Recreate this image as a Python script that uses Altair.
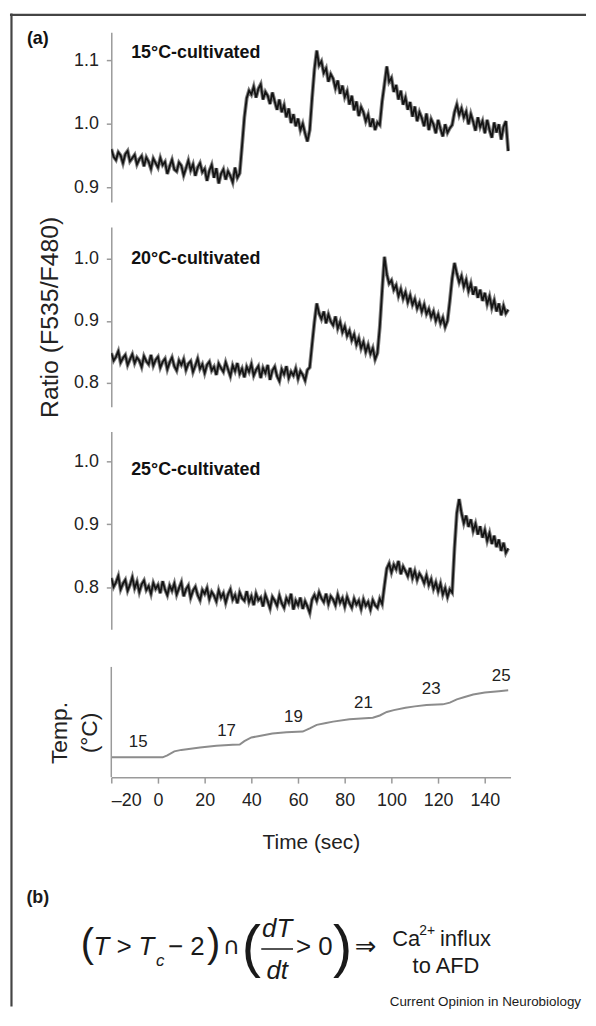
import altair as alt
import pandas as pd

# ---------------- data ----------------
time_s = list(range(-20, 151))

ratio_15 = [
    0.960, 0.948, 0.943, 0.955, 0.950, 0.938, 0.952, 0.957, 0.941, 0.946,
    0.951, 0.936, 0.944, 0.949, 0.933, 0.947, 0.940, 0.929, 0.945, 0.938,
    0.931, 0.946, 0.935, 0.940, 0.921, 0.933, 0.943, 0.928, 0.925, 0.939,
    0.934, 0.919, 0.930, 0.942, 0.927, 0.936, 0.918, 0.931, 0.938, 0.924,
    0.929, 0.910, 0.926, 0.935, 0.915, 0.930, 0.906, 0.921, 0.928, 0.912,
    0.925, 0.918, 0.908, 0.931, 0.915, 0.922, 0.965, 1.010, 1.040, 1.052,
    1.046, 1.058, 1.041, 1.055, 1.062, 1.038, 1.050, 1.044, 1.031, 1.049,
    1.035, 1.022, 1.038, 1.018, 1.029, 1.010, 1.024, 1.001, 1.015, 0.996,
    1.008, 0.990, 1.000, 0.985, 0.972, 0.990, 1.040, 1.085, 1.115, 1.092,
    1.098, 1.080, 1.087, 1.066, 1.078, 1.071, 1.056, 1.068, 1.047, 1.060,
    1.042, 1.051, 1.030, 1.044, 1.021, 1.035, 1.012, 1.026, 1.018, 1.004,
    1.014, 0.995, 1.008, 0.990, 1.002, 0.998, 1.035, 1.062, 1.090, 1.066,
    1.072, 1.050, 1.061, 1.038, 1.052, 1.030, 1.041, 1.022, 1.034, 1.011,
    1.027, 1.004, 1.018, 1.009, 0.996, 1.016, 0.990, 1.007, 0.999, 0.985,
    1.006, 0.992, 0.980, 0.999, 0.986, 0.993, 0.998, 1.018, 1.030, 1.014,
    1.024, 1.010, 1.019, 0.999, 1.015, 1.003, 0.989, 1.010, 0.995, 1.004,
    0.985, 1.006, 0.990, 0.978, 1.002, 0.986, 0.999, 0.975, 0.995, 1.004, 0.957,
]

ratio_20 = [
    0.848, 0.836, 0.842, 0.851, 0.833, 0.840, 0.845, 0.829, 0.838, 0.846,
    0.832, 0.841, 0.836, 0.826, 0.843, 0.835, 0.830, 0.845, 0.828, 0.837,
    0.842, 0.825, 0.834, 0.839, 0.822, 0.833, 0.841, 0.827, 0.820, 0.836,
    0.829, 0.838, 0.821, 0.831, 0.835, 0.818, 0.828, 0.839, 0.823, 0.830,
    0.816, 0.829, 0.834, 0.820, 0.826, 0.813, 0.831, 0.824, 0.818, 0.833,
    0.822, 0.811, 0.828, 0.819, 0.832, 0.815, 0.823, 0.809, 0.826, 0.818,
    0.830, 0.812, 0.821, 0.827, 0.808, 0.824, 0.816, 0.829, 0.805, 0.820,
    0.826, 0.811, 0.803, 0.822, 0.814, 0.827, 0.808, 0.818, 0.812, 0.823,
    0.807, 0.819, 0.813, 0.804, 0.821, 0.825, 0.862, 0.898, 0.928, 0.912,
    0.903, 0.915, 0.896, 0.910, 0.899, 0.893, 0.907, 0.888, 0.898, 0.882,
    0.891, 0.876, 0.884, 0.869, 0.878, 0.862, 0.872, 0.856, 0.866, 0.850,
    0.861, 0.847, 0.856, 0.838, 0.848, 0.890, 0.948, 1.003, 0.975, 0.960,
    0.965, 0.950, 0.957, 0.940, 0.951, 0.936, 0.946, 0.930, 0.941, 0.926,
    0.935, 0.920, 0.929, 0.915, 0.926, 0.911, 0.919, 0.906, 0.915, 0.900,
    0.910, 0.896, 0.905, 0.890, 0.900, 0.932, 0.968, 0.993, 0.976, 0.962,
    0.972, 0.955, 0.966, 0.948, 0.960, 0.942, 0.955, 0.937, 0.950, 0.932,
    0.945, 0.927, 0.939, 0.921, 0.933, 0.915, 0.928, 0.909, 0.924, 0.912, 0.918,
]

ratio_25 = [
    0.815, 0.801, 0.808, 0.818, 0.797, 0.806, 0.812, 0.795, 0.804, 0.816,
    0.799, 0.809, 0.793, 0.805, 0.811, 0.796, 0.802, 0.790, 0.807, 0.798,
    0.804, 0.791, 0.810, 0.797, 0.788, 0.803, 0.795, 0.806, 0.789, 0.799,
    0.808, 0.786, 0.797, 0.803, 0.784, 0.795, 0.801, 0.788, 0.780, 0.796,
    0.790, 0.799, 0.782, 0.793, 0.787, 0.778, 0.795, 0.784, 0.791, 0.776,
    0.789, 0.797, 0.781, 0.788, 0.775, 0.792, 0.783, 0.779, 0.794, 0.777,
    0.786, 0.772, 0.790, 0.780, 0.784, 0.770, 0.788, 0.778, 0.767, 0.785,
    0.779, 0.771, 0.787, 0.775, 0.768, 0.783, 0.776, 0.790, 0.765, 0.779,
    0.772, 0.784, 0.766, 0.778, 0.770, 0.760, 0.781, 0.788, 0.779, 0.792,
    0.783, 0.777, 0.790, 0.774, 0.786, 0.781, 0.772, 0.788, 0.776, 0.783,
    0.770, 0.785, 0.775, 0.768, 0.782, 0.773, 0.779, 0.766, 0.781, 0.771,
    0.777, 0.765, 0.780, 0.772, 0.768, 0.782, 0.774, 0.803, 0.830, 0.838,
    0.824, 0.836, 0.829, 0.842, 0.821, 0.833, 0.826, 0.818, 0.831, 0.815,
    0.826, 0.812, 0.822, 0.816, 0.807, 0.819, 0.804, 0.813, 0.798, 0.808,
    0.794, 0.806, 0.789, 0.799, 0.785, 0.797, 0.792, 0.862, 0.918, 0.940,
    0.918, 0.902, 0.914, 0.896, 0.908, 0.890, 0.901, 0.884, 0.897, 0.879,
    0.891, 0.874, 0.886, 0.869, 0.882, 0.864, 0.876, 0.858, 0.871, 0.855, 0.862,
]

temp_time = [-20, 2, 4, 7, 10, 18, 25, 32, 35, 37, 40, 44, 49, 55, 62, 65, 68,
             72, 75, 82, 92, 95, 98, 101, 106, 110, 115, 122, 125, 128, 131,
             135, 140, 146, 150]
temp_vals = [15.0, 15.0, 15.3, 15.88, 16.1, 16.47, 16.7, 16.87, 16.9, 17.4,
             17.94, 18.2, 18.53, 18.7, 18.82, 19.3, 19.81, 20.1, 20.29, 20.65,
             20.88, 21.2, 21.72, 22.0, 22.35, 22.55, 22.75, 22.85, 23.1, 23.59,
             23.9, 24.32, 24.6, 24.81, 24.95]

temp_label_time = [-8.5, 29.4, 58, 88, 117, 147]
temp_label_pos = [17.2, 18.9, 21.0, 23.05, 25.1, 27.0]
temp_label_text = ["15", "17", "19", "21", "23", "25"]

panel_titles = ["15°C-cultivated", "20°C-cultivated", "25°C-cultivated"]
title_time = -11.5
title_pos = [1.111, 1.0, 0.986]

x_ticks = [-20, 0, 20, 40, 60, 80, 100, 120, 140]

FONT = "Liberation Sans"
AX = "#9a9a9a"
INK = "#1a1a1a"

xscale = alt.Scale(domain=[-20, 151], nice=False, zero=False)


def ratio_panel(vals, dom, ticks, ttl, ttl_y, h, ytitle=None, extra=None):
    df = pd.DataFrame({"t": time_s[:len(vals)], "r": vals[:len(time_s)]})
    ysc = alt.Scale(domain=dom, nice=False, zero=False)
    axis_kw = dict(values=ticks, format=".1f", grid=False, domainColor=AX,
                   domainWidth=1.5, tickColor=AX, tickWidth=1.5, tickSize=5,
                   labelFontSize=18, labelColor="#222222", labelPadding=8,
                   labelFont=FONT)
    if ytitle:
        axis_kw.update(title=ytitle, titleX=-62, titleY=h / 2, titleAngle=270,
                       titleAlign="center", titleBaseline="middle",
                       titleFontSize=25, titleFontWeight="normal",
                       titleColor="#222222", titleFont=FONT)
    else:
        axis_kw.update(title=None)
    base = alt.Chart(df)
    halo = base.mark_line(color="#808080", strokeWidth=3.8, clip=True).encode(
        x=alt.X("t:Q", scale=xscale, axis=None),
        y=alt.Y("r:Q", scale=ysc, axis=alt.Axis(**axis_kw)),
    )
    core = base.mark_line(color="#141414", strokeWidth=1.8, clip=True).encode(
        x=alt.X("t:Q", scale=xscale, axis=None),
        y=alt.Y("r:Q", scale=ysc),
    )
    tdf = pd.DataFrame({"t": [title_time], "r": [ttl_y], "s": [ttl]})
    tmark = alt.Chart(tdf).mark_text(align="left", baseline="middle",
                                     fontSize=18, fontWeight="bold",
                                     font=FONT, color="#111111").encode(
        x="t:Q", y="r:Q", text="s:N")
    layers = [halo, core, tmark]
    if extra:
        layers += extra
    return alt.layer(*layers).properties(width=402, height=h)


one = pd.DataFrame({"k": [0]})

label_a = alt.Chart(one).mark_text(fontSize=18, fontWeight="bold", font=FONT,
                                   color="#111111", align="center",
                                   baseline="middle").encode(
    x=alt.value(-74), y=alt.value(7), text=alt.value("(a)"))

p1 = ratio_panel(ratio_15, [0.8766, 1.1438], [0.9, 1.0, 1.1], panel_titles[0],
                 title_pos[0], 171, extra=[label_a])
p2 = ratio_panel(ratio_20, [0.7618, 1.051], [0.8, 0.9, 1.0], panel_titles[1],
                 title_pos[1], 181, ytitle="Ratio (F535/F480)")
p3 = ratio_panel(ratio_25, [0.7339, 1.0472], [0.8, 0.9, 1.0], panel_titles[2],
                 title_pos[2], 199)

# ---------------- temperature panel ----------------
# the panel is 13 px taller than its visible axis so that the gap above it is
# larger than between the ratio panels; its y axis line is drawn as a rule
GAP = 13
tdf = pd.DataFrame({"t": temp_time, "v": temp_vals})
tscale = alt.Scale(domain=[12.06, 28.4 + GAP * 16.34 / 111], nice=False,
                   zero=False)
temp_line = alt.Chart(tdf).mark_line(color="#8c8c8c", strokeWidth=2).encode(
    x=alt.X("t:Q", scale=xscale,
            axis=alt.Axis(values=x_ticks, grid=False, domainColor=AX,
                          domainWidth=1.5, tickColor=AX, tickWidth=1.5,
                          tickSize=6, labelFontSize=18, labelColor="#222222",
                          labelFont=FONT, labelPadding=9,
                          labelExpr="datum.value < 0 ? '\u2013' + abs(datum.value) : datum.label",
                          title="Time (sec)", titleFontSize=21,
                          titleFontWeight="normal", titleColor="#222222",
                          titleFont=FONT, titlePadding=22)),
    y=alt.Y("v:Q", scale=tscale,
            axis=alt.Axis(values=[], grid=False, domain=False,
                          title=["Temp.", "(°C)"],
                          titleX=-52, titleY=GAP + 66, titleAngle=270,
                          titleAlign="center", titleBaseline="middle",
                          titleFontSize=23, titleLineHeight=30,
                          titleFontWeight="normal", titleColor="#222222",
                          titleFont=FONT)),
)
y_axis_line = alt.Chart(one).mark_rule(color=AX, strokeWidth=1.5).encode(
    x=alt.value(0), y=alt.value(GAP), y2=alt.value(GAP + 111))
ldf = pd.DataFrame({"t": temp_label_time, "v": temp_label_pos,
                    "s": temp_label_text})
temp_labels = alt.Chart(ldf).mark_text(fontSize=17, font=FONT,
                                       color="#222222", baseline="middle").encode(
    x="t:Q", y="v:Q", text="s:N")


def txt(s, x, y, size=26, italic=False, align="left", font=FONT, weight="normal"):
    return alt.Chart(one).mark_text(
        fontSize=size, font=font, fontStyle="italic" if italic else "normal",
        fontWeight=weight, align=align, baseline="middle",
        color=INK).encode(x=alt.value(x), y=alt.value(y), text=alt.value(s))


OX, OY = 110, 653  # page position of the temperature panel's origin

# figure frame (top and left border), drawn from the last panel so it is on top
frame_top = alt.Chart(one).mark_rule(color="#444444", strokeWidth=2.2).encode(
    x=alt.value(8 - OX), x2=alt.value(588 - OX), y=alt.value(9.5 - OY))
frame_left = alt.Chart(one).mark_rule(color="#444444", strokeWidth=2.2).encode(
    x=alt.value(9.5 - OX), y=alt.value(8 - OY), y2=alt.value(1008 - OY))

formula = [
    txt("(b)", 36 - OX, 899 - OY, size=18, weight="bold", align="center"),
    txt("(", 86 - OX, 946 - OY, size=40, align="center"),
    txt("T > T", 92 - OX, 948 - OY, italic=True),
    txt("c", 155 - OX, 962 - OY, size=17, italic=True),
    txt("\u2212 2", 167 - OX, 948 - OY),
    txt(")", 213 - OX, 946 - OY, size=40, align="center"),
    txt("\u2229", 231 - OX, 948 - OY, size=24, align="center", font="DejaVu Sans"),
    txt("(", 251 - OX, 950 - OY, size=58, align="center"),
    txt("dT", 277 - OX, 930 - OY, italic=True, align="center"),
    txt("dt", 277 - OX, 972 - OY, italic=True, align="center"),
    txt("> 0", 296 - OX, 948 - OY),
    txt(")", 343 - OX, 950 - OY, size=58, align="center"),
    txt("\u21d2", 366 - OX, 948 - OY, size=26, align="center", font="DejaVu Sans"),
    txt("Ca", 393 - OX, 940 - OY, size=22),
    txt("2+", 420 - OX, 932 - OY, size=14),
    txt("influx", 441 - OX, 940 - OY, size=22),
    txt("to AFD", 447 - OX, 967 - OY, size=22, align="center"),
    txt("Current Opinion in Neurobiology", 583 - OX, 1003 - OY, size=13.5,
        align="right"),
]
frac_bar = alt.Chart(one).mark_rule(color=INK, strokeWidth=1.5).encode(
    x=alt.value(261 - OX), x2=alt.value(293 - OX), y=alt.value(950 - OY))

p4 = alt.layer(temp_line, y_axis_line, temp_labels, frac_bar, *formula,
               frame_top, frame_left).properties(width=402, height=111 + GAP)

chart = alt.vconcat(p1, p2, p3, p4, spacing=25, bounds="flush").properties(
    padding=0, background="white"
).configure(font=FONT).configure_view(stroke=None)

chart.save("out.html", embed_options={"renderer": "svg", "actions": False})
